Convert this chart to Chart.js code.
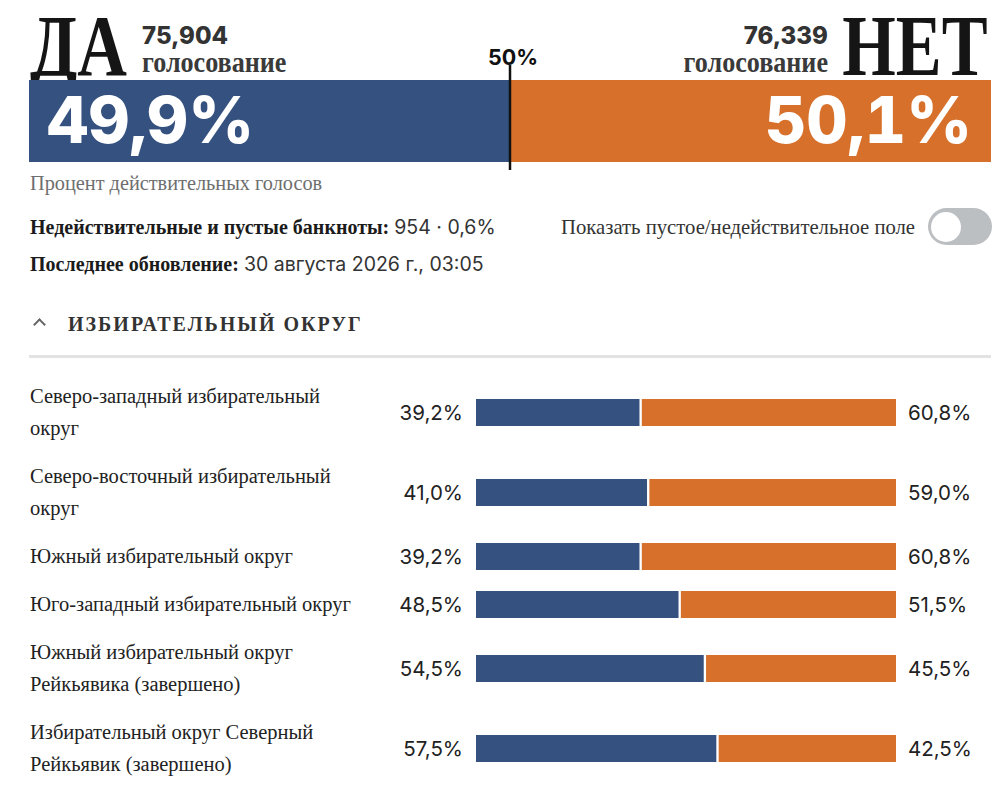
<!DOCTYPE html>
<html lang="ru">
<head>
<meta charset="utf-8">
<script src="https://cdn.jsdelivr.net/npm/chart.js@4/dist/chart.umd.min.js"></script>
<style>
  body { margin: 0; background: #fff; width: 1008px; height: 800px; overflow: hidden; position: relative; color: #1b1b1b; }
  .abs { position: absolute; white-space: nowrap; }
  .serif { font-family: "Liberation Serif", "DejaVu Serif", serif; }
  .sans { font-family: Inter, "Noto Sans", sans-serif; }
  .big-word { font-size: 86px; line-height: 86px; font-weight: 700; color: #151515; }
  .count { font-size: 24px; line-height: 24px; font-weight: 800; color: #333; }
  .votes { font-size: 30px; line-height: 30px; font-weight: 700; color: #3a3a3a; }
  .big-pct { font-size: 64px; line-height: 64px; font-weight: 800; color: #fff; font-variant-numeric: tabular-nums; }
  .row { display: flex; align-items: center; padding: 8px 0; }
  .row .name { width: 332px; margin-right: 21px; font-size: 20.5px; line-height: 32px; margin-left: 30px; white-space: normal; color: #222; }
  .row .lp { width: 80px; text-align: right; font-size: 20.5px; color: #222; }
  .row .bar { width: 420px; height: 27px; margin: 0 12px 0 13px; position: relative; }
  .row .rp { font-size: 20.5px; color: #222; }
  .chev { position: absolute; left: 35px; top: 320px; width: 7px; height: 7px; border-left: 2px solid #666; border-top: 2px solid #666; transform: rotate(45deg); }
</style>
</head>
<body>
<div class="abs serif big-word" style="left:30px; top:3px; transform:scaleX(0.8); transform-origin:left;">ДА</div>
<div class="abs sans count" id="yesCount" style="left:142px; top:24px;"></div>
<div class="abs serif votes" style="left:142px; top:47px; transform:scaleX(0.87); transform-origin:left;">голосование</div>

<div class="abs serif big-word" style="right:20px; top:3px; transform:scaleX(0.8); transform-origin:right;">НЕТ</div>
<div class="abs sans count" id="noCount" style="right:180px; top:24px;"></div>
<div class="abs serif votes" style="right:180px; top:47px; transform:scaleX(0.87); transform-origin:right;">голосование</div>

<div class="abs sans" style="left:488px; top:47px; font-size:21.5px; line-height:21px; font-weight:700; color:#111;">50%</div>

<div class="abs" style="left:29px; top:64px; width:962px; height:108px;"><canvas id="topChart"></canvas></div>
<div class="abs sans big-pct" id="yesPctLabel" style="left:47px; top:88px;"></div>
<div class="abs sans big-pct" id="noPctLabel" style="right:36px; top:88px;"></div>

<div class="abs serif" style="left:30px; top:172px; font-size:20.3px; line-height:22px; color:#6e6e6e;">Процент действительных голосов</div>

<div class="abs" style="left:30px; top:215px; font-size:20px; line-height:24px;">
  <span class="serif" style="font-weight:700;">Недействительные и пустые банкноты:</span>
  <span class="sans" id="blankLine" style="font-size:19.5px; color:#333;"></span>
</div>
<div class="abs serif" style="left:561px; top:215px; font-size:20.7px; line-height:24px; color:#333;">Показать пустое/недействительное поле</div>
<div class="abs" style="left:928px; top:208px; width:64px; height:37px; border-radius:19px; background:#bcbfc2;">
  <div style="position:absolute; left:3px; top:3.5px; width:30px; height:30px; border-radius:50%; background:#fff;"></div>
</div>
<div class="abs" style="left:30px; top:252px; font-size:20px; line-height:24px;">
  <span class="serif" style="font-weight:700;">Последнее обновление:</span>
  <span class="sans" id="updated" style="font-size:19.5px; color:#333;"></span>
</div>

<div class="chev"></div>
<div class="abs serif" style="left:68px; top:312px; font-size:20px; line-height:24px; font-weight:700; letter-spacing:2px; color:#333;">ИЗБИРАТЕЛЬНЫЙ ОКРУГ</div>
<div class="abs" style="left:29px; top:355px; width:962px; height:3px; background:#e3e3e3;"></div>

<div class="abs" id="rows" style="left:0; top:372px; width:1008px;"></div>

<script>
const yesColor = '#34517f';
const noColor = '#d6702b';

const totalYesPct = 49.9;
const totalNoPct = 50.1;
const yesVotes = '75,904';
const noVotes = '76,339';
const blankVotes = '954';
const blankPct = 0.6;
const updatedText = '30 августа 2026 г., 03:05';

const districts = [
  'Северо-западный избирательный округ',
  'Северо-восточный избирательный округ',
  'Южный избирательный округ',
  'Юго-западный избирательный округ',
  'Южный избирательный округ Рейкьявика (завершено)',
  'Избирательный округ Северный Рейкьявик (завершено)'
];
const districtYes = [39.2, 41.0, 39.2, 48.5, 54.5, 57.5];
const districtNo = [60.8, 59.0, 60.8, 51.5, 45.5, 42.5];

const fmt = v => v.toFixed(1).replace('.', ',') + '%';

document.getElementById('yesCount').textContent = yesVotes;
document.getElementById('noCount').textContent = noVotes;
document.getElementById('yesPctLabel').textContent = fmt(totalYesPct);
document.getElementById('noPctLabel').textContent = fmt(totalNoPct);
document.getElementById('blankLine').textContent = blankVotes + ' · ' + fmt(blankPct);
document.getElementById('updated').textContent = updatedText;

// 50% marker line on the top bar
const midLine = {
  id: 'midLine',
  afterDatasetsDraw(chart) {
    const x = chart.scales.x.getPixelForValue(50);
    const ctx = chart.ctx;
    ctx.save();
    ctx.strokeStyle = '#111';
    ctx.lineWidth = 2.5;
    ctx.beginPath();
    ctx.moveTo(x, 1);
    ctx.lineTo(x, chart.height - 2);
    ctx.stroke();
    ctx.restore();
  }
};

new Chart(document.getElementById('topChart'), {
  type: 'bar',
  data: {
    labels: ['Всего'],
    datasets: [
      { label: 'ДА', data: [totalYesPct], backgroundColor: yesColor },
      { label: 'НЕТ', data: [totalNoPct], backgroundColor: noColor }
    ]
  },
  options: {
    indexAxis: 'y',
    responsive: true,
    maintainAspectRatio: false,
    animation: false,
    layout: { padding: { top: 16, bottom: 10 } },
    datasets: { bar: { barPercentage: 1, categoryPercentage: 1 } },
    scales: {
      x: { stacked: true, min: 0, max: 100, display: false },
      y: { stacked: true, display: false }
    },
    plugins: { legend: { display: false }, tooltip: { enabled: false } }
  },
  plugins: [midLine]
});

const rows = document.getElementById('rows');
districts.forEach((name, i) => {
  const row = document.createElement('div');
  row.className = 'row';
  row.innerHTML =
    '<div class="name serif"></div>' +
    '<div class="lp sans"></div>' +
    '<div class="bar"><canvas></canvas></div>' +
    '<div class="rp sans"></div>';
  row.querySelector('.name').textContent = name;
  row.querySelector('.lp').textContent = fmt(districtYes[i]);
  row.querySelector('.rp').textContent = fmt(districtNo[i]);
  rows.appendChild(row);

  new Chart(row.querySelector('canvas'), {
    type: 'bar',
    data: {
      labels: [name],
      datasets: [
        { label: 'ДА', data: [districtYes[i]], backgroundColor: yesColor,
          borderColor: '#fff', borderWidth: { right: 1.5 }, borderSkipped: false },
        { label: 'НЕТ', data: [districtNo[i]], backgroundColor: noColor,
          borderColor: '#fff', borderWidth: { left: 1.5 }, borderSkipped: false }
      ]
    },
    options: {
      indexAxis: 'y',
      responsive: true,
      maintainAspectRatio: false,
      animation: false,
      datasets: { bar: { barPercentage: 1, categoryPercentage: 1 } },
      scales: {
        x: { stacked: true, min: 0, max: 100, display: false },
        y: { stacked: true, display: false }
      },
      plugins: { legend: { display: false }, tooltip: { enabled: false } }
    }
  });
});
</script>
</body>
</html>
